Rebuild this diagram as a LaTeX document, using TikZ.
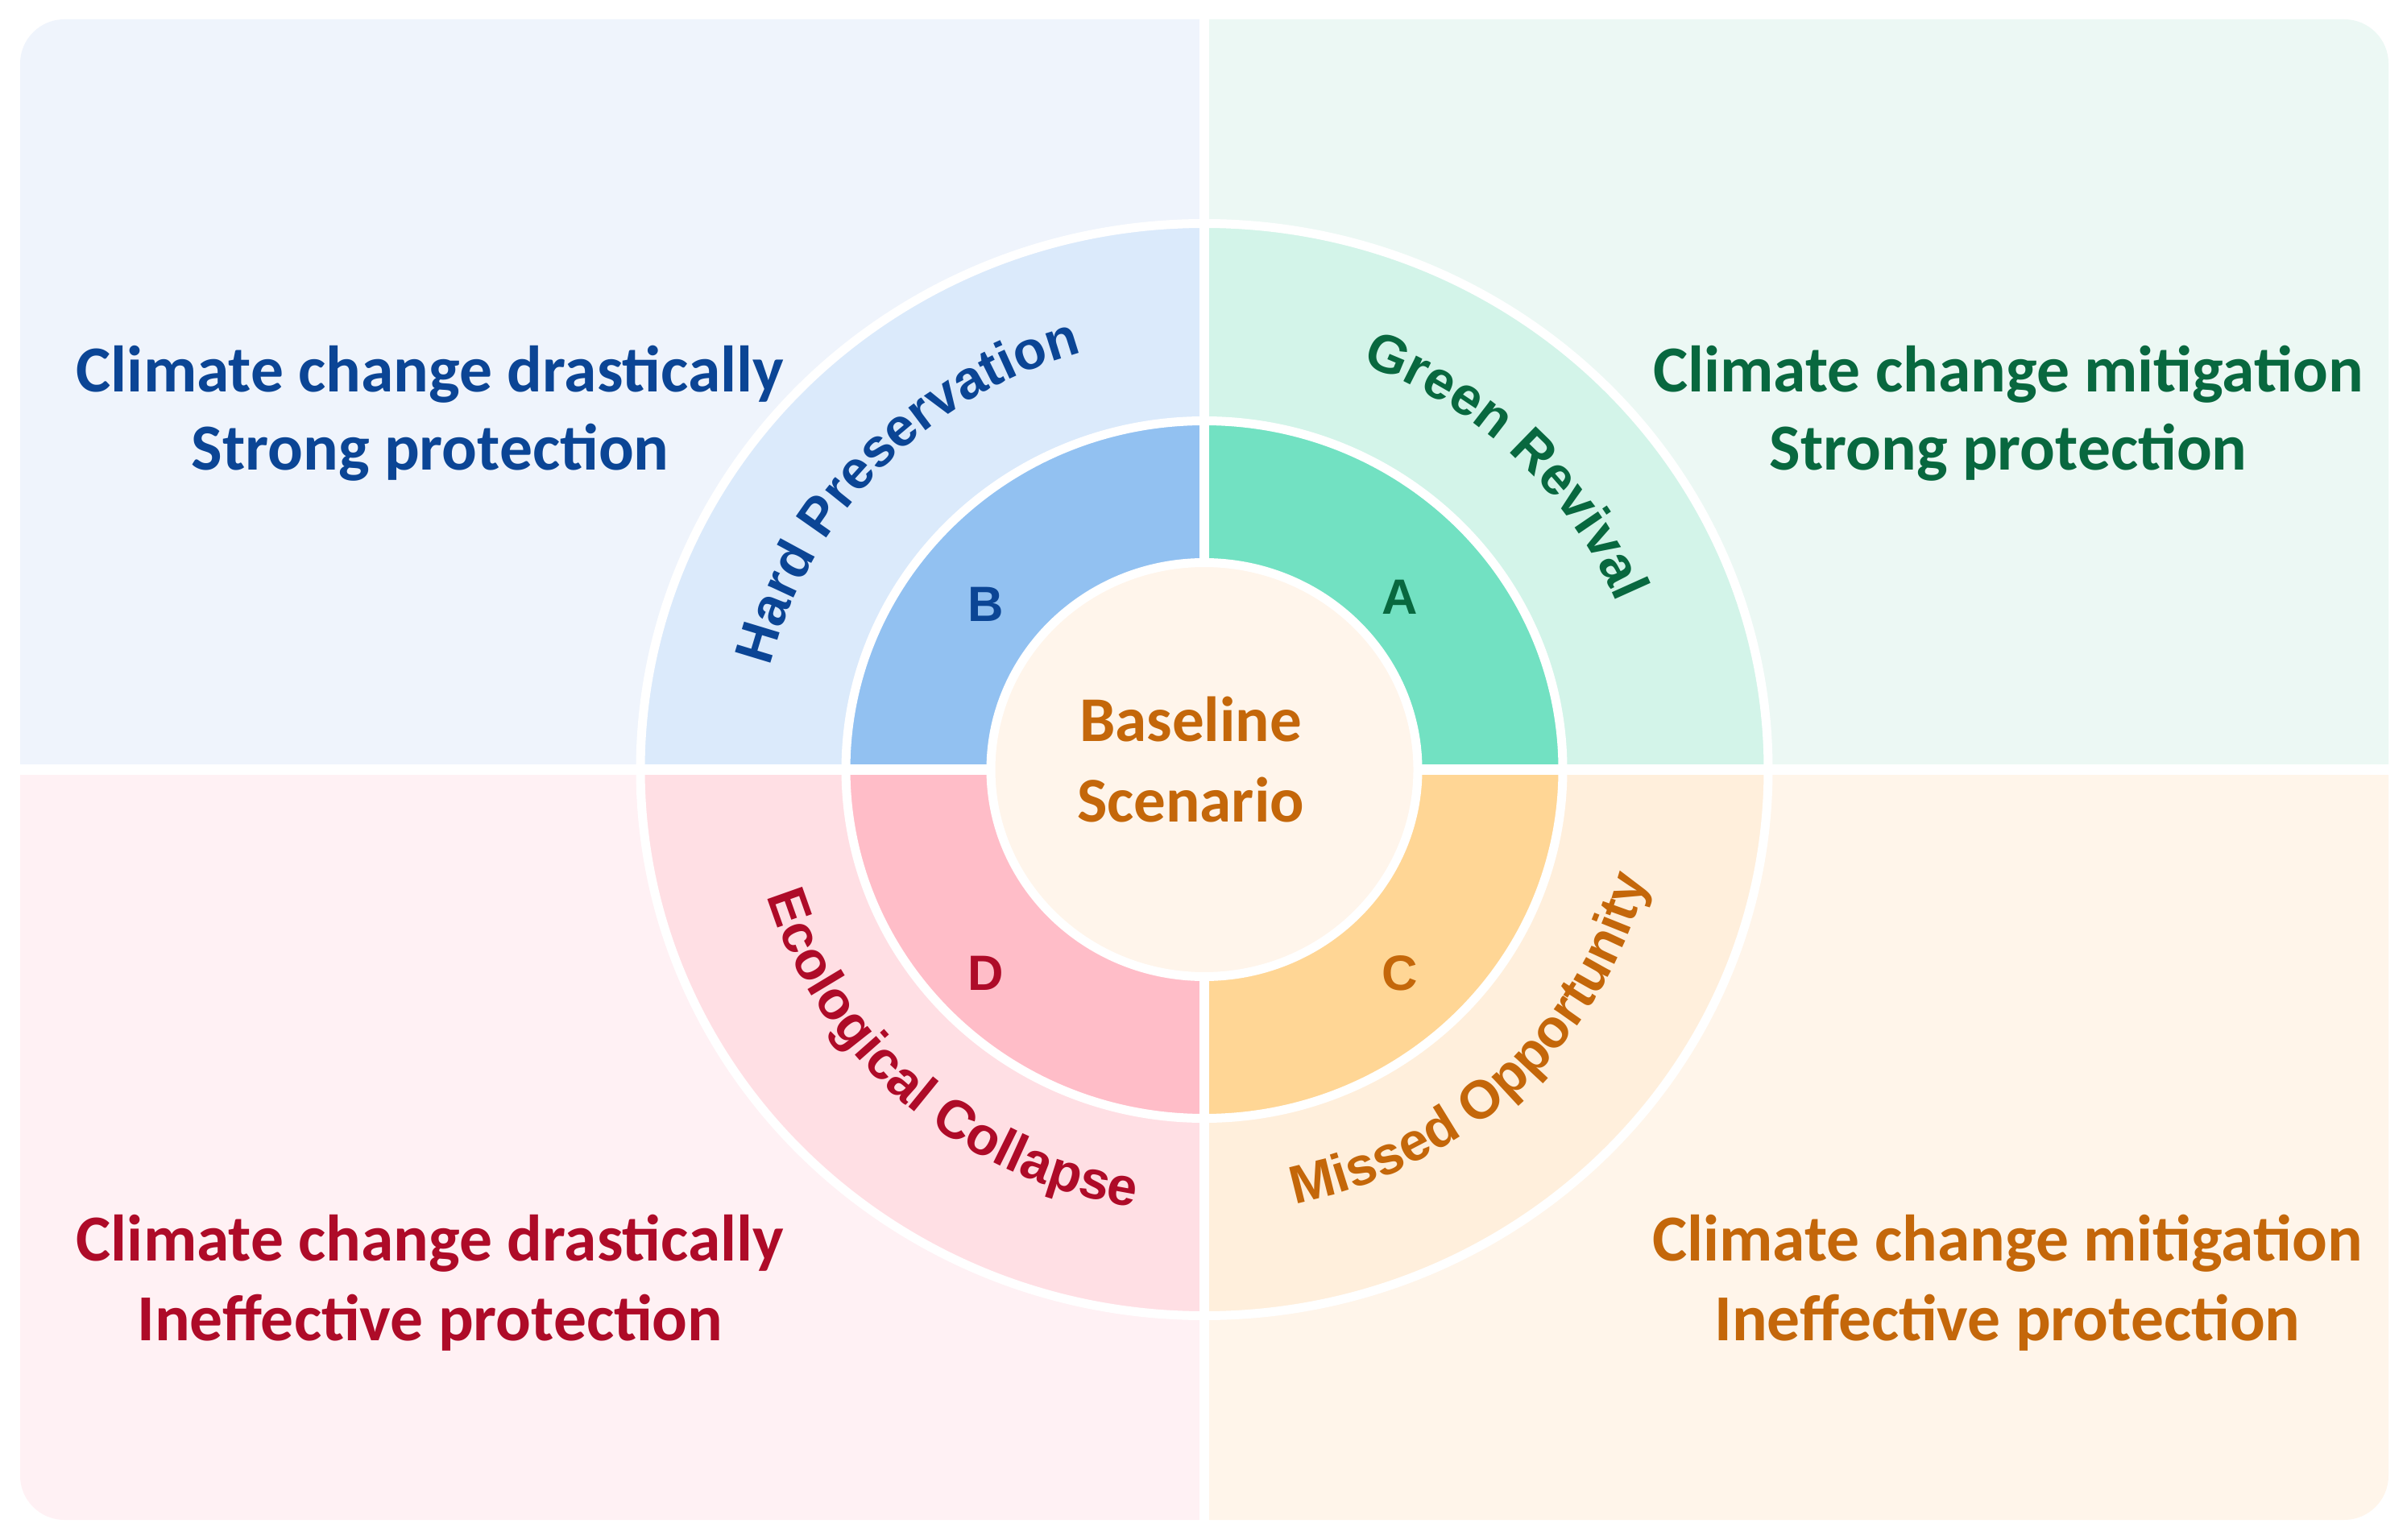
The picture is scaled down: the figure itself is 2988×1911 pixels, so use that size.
\documentclass[tikz,border=0pt]{standalone}
\usepackage{fontspec}
\setmainfont{Carlito}
\newfontfamily\arialb{Liberation Sans}
\usetikzlibrary{decorations.text}
\definecolor{tlBg}{HTML}{EFF4FC}
\definecolor{tlOuter}{HTML}{DBEAFB}
\definecolor{tlMid}{HTML}{92C1F1}
\definecolor{tlText}{HTML}{0B4595}
\definecolor{trBg}{HTML}{ECF8F4}
\definecolor{trOuter}{HTML}{D3F4E9}
\definecolor{trMid}{HTML}{72E1C2}
\definecolor{trText}{HTML}{08683F}
\definecolor{blBg}{HTML}{FFF1F4}
\definecolor{blOuter}{HTML}{FFDFE4}
\definecolor{blMid}{HTML}{FFBDC8}
\definecolor{blText}{HTML}{AE0B28}
\definecolor{brBg}{HTML}{FFF5EA}
\definecolor{brOuter}{HTML}{FFEFDC}
\definecolor{brMid}{HTML}{FFD695}
\definecolor{brText}{HTML}{C4670A}
\definecolor{ctrBg}{HTML}{FFF5EB}
\newcommand\labfont{\arialb\bfseries\fontsize{19}{22}\selectfont}
\tikzset{
  quadtext/.style={anchor=base, inner sep=0pt, font=\bfseries\fontsize{23.2}{27}\selectfont},
  ctrtext/.style={anchor=base, inner sep=0pt, font=\bfseries\fontsize{22.5}{27}\selectfont},
  letter/.style={inner sep=0pt, font=\arialb\bfseries\fontsize{17.5}{20}\selectfont},
  whiteline/.style={draw=white, line width=0.11cm},
  gapline/.style={draw=white, line width=0.12cm},
}
\begin{document}
\begin{tikzpicture}[x=0.01cm,y=0.01cm]
\useasboundingbox (0,0) rectangle (2988,1911);
\fill[white] (0,0) rectangle (2988,1911);
\coordinate (c) at (1495,955.5);
% quadrants
\foreach \qx/\qy/\bg/\ou/\mi in {0/955.5/tlBg/tlOuter/tlMid, 1495/955.5/trBg/trOuter/trMid, 0/0/blBg/blOuter/blMid, 1495/0/brBg/brOuter/brMid}{
  \begin{scope}
    \clip (\qx,\qy) rectangle ++(1495,955.5);
    \fill[\bg, rounded corners=0.55cm] (25,24) rectangle (2965,1887);
    \fill[\ou] (c) ellipse [x radius=700, y radius=678];
    \fill[\mi] (c) ellipse [x radius=445, y radius=433];
  \end{scope}
}
\path[whiteline] (c) ellipse [x radius=700, y radius=678];
\path[whiteline] (c) ellipse [x radius=445, y radius=433];
\path[gapline] (1495,0) -- (1495,1911);
\path[gapline] (0,955.5) -- (2988,955.5);
\path[whiteline, fill=ctrBg] (c) ellipse [x radius=265, y radius=257];
% center text
\node[ctrtext, text=brText] (base1) at (1478,990) {Baseline};
\node[ctrtext, text=brText] (base2) at (1478,891) {Scenario};
% letters
\node[letter, text=trText] (lA) at (1738,1170) {A};
\node[letter, text=tlText] (lB) at (1224,1161) {B};
\node[letter, text=brText] (lC) at (1738,703) {C};
\node[letter, text=blText] (lD) at (1224,703) {D};
% curved labels
\begin{scope}[shift={(1495,955.5)}]
\path[decorate, decoration={text along path, text align=center, text color=tlText, text={|\labfont|Hard Preservation}}]
  (196.5:555 and 538) arc [start angle=196.5, end angle=76.5, x radius=555, y radius=538];
\path[decorate, decoration={text along path, text align=center, text color=trText, text={|\labfont|Green Revival}}]
  (105.5:555 and 538) arc [start angle=105.5, end angle=-14.5, x radius=555, y radius=538];
\path[decorate, decoration={text along path, text align=center, text color=blText, text={|\labfont|Ecological Collapse}}]
  (168.5:567 and 550) arc [start angle=168.5, end angle=288.5, x radius=567, y radius=550];
\path[decorate, decoration={text along path, text align=center, text color=brText, text={|\labfont|Missed Opportunity}}]
  (254:567 and 550) arc [start angle=254, end angle=374, x radius=567, y radius=550];
\end{scope}
% quadrant texts
\node[quadtext, text=tlText] (tl1) at (534,1424) {Climate change drastically};
\node[quadtext, text=tlText] (tl2) at (534,1327) {Strong protection};
\node[quadtext, text=trText] (tr1) at (2493,1424) {Climate change mitigation};
\node[quadtext, text=trText] (tr2) at (2493,1327) {Strong protection};
\node[quadtext, text=blText] (bl1) at (534,346) {Climate change drastically};
\node[quadtext, text=blText] (bl2) at (534,247) {Ineffective protection};
\node[quadtext, text=brText] (br1) at (2492,346) {Climate change mitigation};
\node[quadtext, text=brText] (br2) at (2492,247) {Ineffective protection};
\end{tikzpicture}
\end{document}
